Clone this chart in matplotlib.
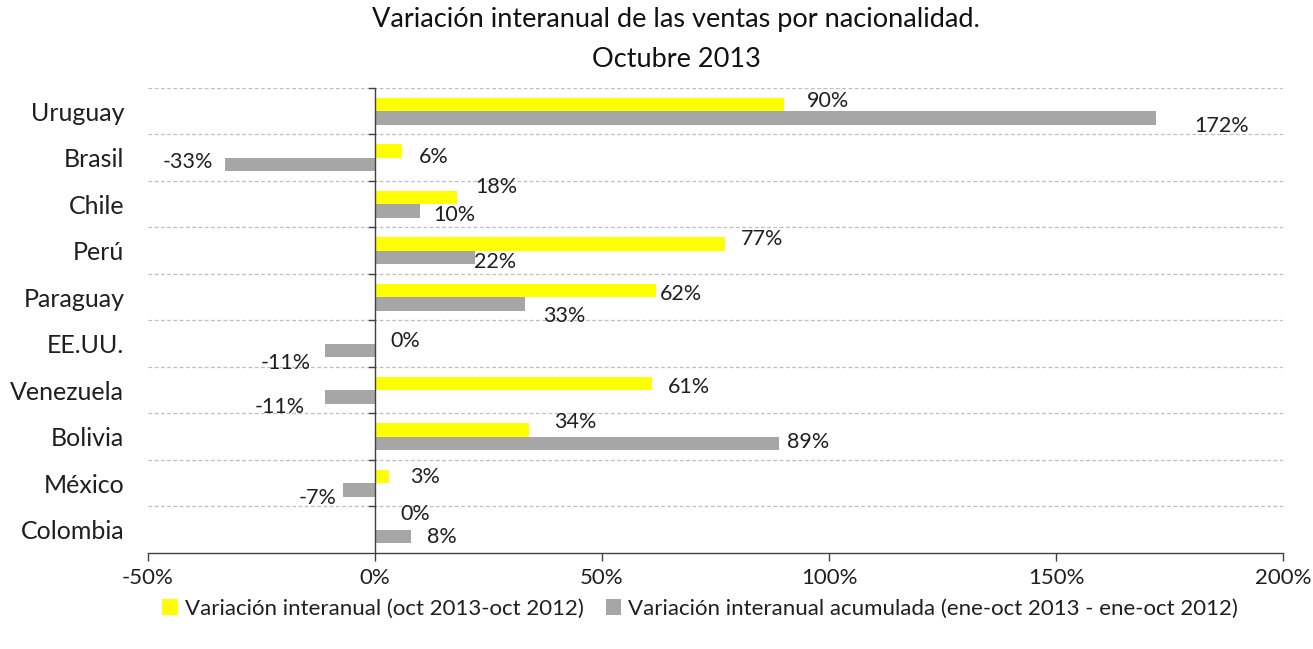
import matplotlib
matplotlib.use("Agg")
import matplotlib.pyplot as plt
import numpy as np

plt.rcParams['font.family'] = ['Lato', 'DejaVu Sans']

categories = ["Uruguay", "Brasil", "Chile", "Perú", "Paraguay", "EE.UU.",
              "Venezuela", "Bolivia", "México", "Colombia"]
interanual = [90, 6, 18, 77, 62, 0, 61, 34, 3, 0]
acumulada = [172, -33, 10, 22, 33, -11, -11, 89, -7, 8]
xticks = [-50, 0, 50, 100, 150, 200]
series_names = ["Variación interanual (oct 2013-oct 2012)",
                "Variación interanual acumulada (ene-oct 2013 - ene-oct 2012)"]
title = "Variación interanual de las ventas por nacionalidad.\nOctubre 2013"

# label offsets (pixels) relative to bar end / bar center
off_y = [(44, 4), (32, -6), (40, 11), (37, 5), (24, -3), (30, -4), (37, -3), (46, 8), (36, 0), (40, 9)]
off_g = [(66, -8), (-37, 2), (34, -4), (20, -5), (39, -12), (-39, -13), (-45, -10), (29, 1), (-26, -8), (31, -1)]

W, H = 1313, 649
fig = plt.figure(figsize=(W / 100, H / 100), dpi=100)
ax = fig.add_axes([148 / W, (H - 553) / H, (1283 - 148) / W, (553 - 88) / H])

n = len(categories)
pos = np.arange(n)
bh = 0.29
c_y = "#FFFF00"
c_g = "#A6A6A6"
ax.barh(pos - bh / 2, interanual, height=bh, color=c_y, label=series_names[0], zorder=3)
ax.barh(pos + bh / 2, acumulada, height=bh, color=c_g, label=series_names[1], zorder=3)

ax.set_xlim(-50, 200)
ax.set_ylim(n - 0.5, -0.5)

for i in range(n):
    for vals, offs, sign in ((interanual, off_y, -1), (acumulada, off_g, 1)):
        v = vals[i]
        dx, dy = offs[i]
        ax.annotate(f"{v}%", xy=(v, pos[i] + sign * bh / 2), xytext=(dx, dy),
                    textcoords="offset pixels", ha="center", va="center",
                    fontsize=15.5, color="#1f1f1f", zorder=4)

# grid lines at category boundaries
for b in np.arange(-0.5, n - 0.5, 1.0):
    ax.axhline(b, color="#BFBFBF", lw=0.9, ls=(0, (3, 2)), zorder=1)

ax.axvline(0, color="#404040", lw=1.0, zorder=5)
for b in np.arange(-0.5, n - 0.5, 1.0):
    ax.plot([-1.3, 0], [b, b], color="#404040", lw=1.0, zorder=5, clip_on=False)

ax.set_xticks(xticks)
ax.set_xticklabels([f"{t}%" for t in xticks], fontsize=16, color="#1f1f1f")
ax.set_yticks(pos)
ax.set_yticklabels(categories, fontsize=18, color="#1f1f1f")
ax.tick_params(axis="y", length=0, pad=17)
ax.tick_params(axis="x", direction="out", length=6, width=1, color="#404040", pad=5)

for s in ("top", "right", "left"):
    ax.spines[s].set_visible(False)
ax.spines["bottom"].set_color("#404040")
ax.spines["bottom"].set_linewidth(1.0)

fig.suptitle(title, x=676 / W, y=1 - 7 / H, fontsize=19.5, color="#111111", va="top",
             linespacing=1.75)

leg = fig.legend(loc="center", bbox_to_anchor=(700 / W, 1 - 609 / H), ncol=2,
                 frameon=False, fontsize=16, handlelength=0.7, handleheight=0.7,
                 handletextpad=0.3, columnspacing=1.0)
for t in leg.get_texts():
    t.set_color("#1f1f1f")

fig.savefig("out.png", dpi=100)
